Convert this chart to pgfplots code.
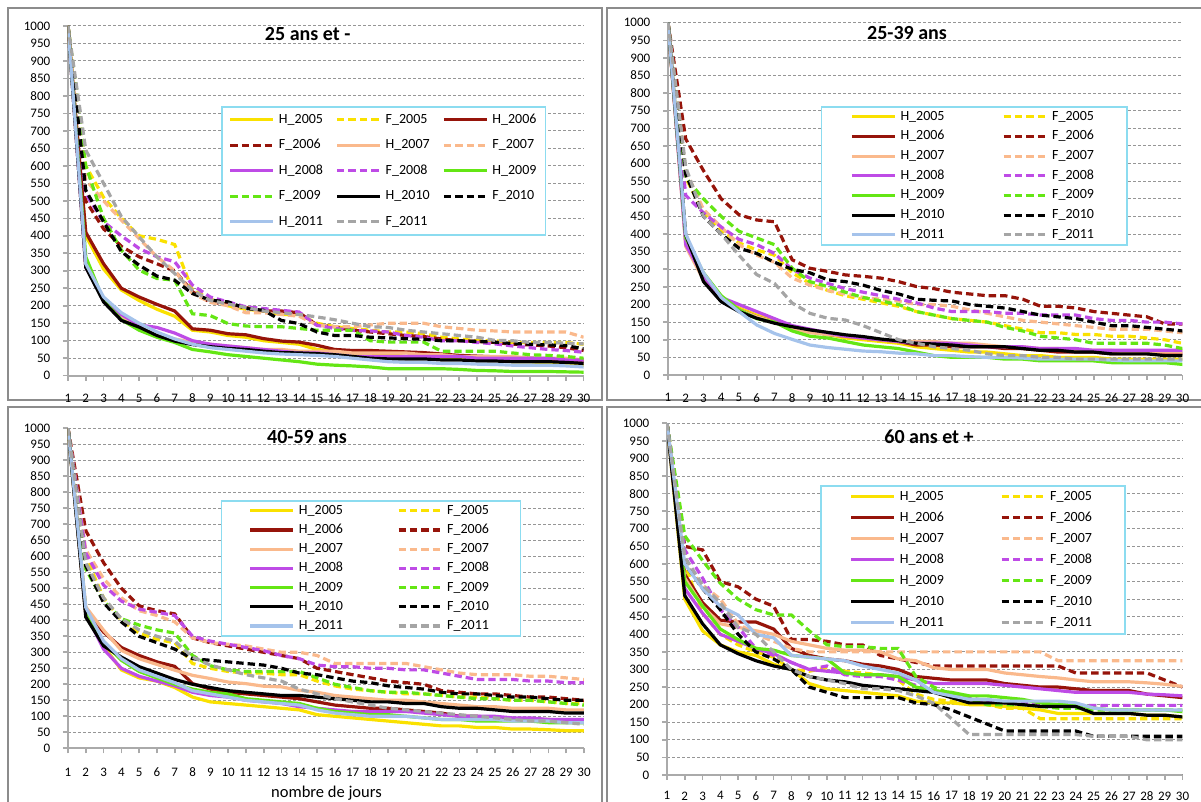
\documentclass[border=0pt]{standalone}
\usepackage{fontspec}
\setmainfont{Carlito}
\usepackage{pgfplots}
\pgfplotsset{compat=1.18}
\definecolor{cyel}{RGB}{250,225,0}
\definecolor{cdred}{RGB}{150,20,10}
\definecolor{cor}{RGB}{250,185,140}
\definecolor{cpur}{RGB}{190,75,230}
\definecolor{cgrn}{RGB}{100,230,20}
\definecolor{cblk}{RGB}{0,0,0}
\definecolor{cblu}{RGB}{165,195,235}
\definecolor{cgry}{RGB}{165,165,165}
\definecolor{cleg}{RGB}{140,220,240}
\definecolor{cframe}{RGB}{140,140,140}
\definecolor{cgrid}{RGB}{150,150,150}
\definecolor{caxis}{RGB}{170,170,170}
\pgfplotsset{
  hs/.style={line width=1.6pt, solid},
  fs/.style={line width=1.6pt, dash pattern=on 3.7pt off 2pt},
  panel/.style={
    scale only axis, anchor=south west,
    xmin=1, xmax=30, ymin=0, ymax=1000,
    xtick={1,...,30}, ytick={0,50,...,1000},
    axis x line*=bottom, axis y line*=left,
    axis line style={caxis, line width=0.9pt},
    tick style={caxis, line width=0.8pt},
    major tick length=2.5pt, tick align=outside,
    ymajorgrids, major grid style={cgrid, line width=0.5pt, dash pattern=on 1.5pt off 1pt},
    tick label style={font=\fontsize{6.5}{7}\selectfont},
    /pgf/number format/assume math mode=true,
    /pgf/number format/set thousands separator={},
    yticklabel style={inner sep=0pt, anchor=east, xshift=-6.2pt},
    legend cell align=left,
    legend image code/.code={\draw[##1] (0pt,0pt) -- (21.5pt,0pt);},
  },
  leg/.style={
    legend style={anchor=north west, draw=cleg, line width=0.8pt,
      font=\fontsize{7}{8}\selectfont,
      nodes={inner sep=1pt, text width=22pt, text height=5pt, text depth=1.5pt, align=left},
      /tikz/every odd column/.style={column sep=1pt}},
  },
}
\begin{document}
\begin{tikzpicture}
\useasboundingbox (0,0) rectangle (600.5pt,401pt);
\draw[cframe, line width=1pt] (4pt,201pt) rectangle (301pt,397pt);
\draw[cframe, line width=1pt] (602pt,201pt) -- (303.5pt,201pt) -- (303.5pt,397pt) -- (602pt,397pt);
\draw[cframe, line width=1pt] (4pt,-2pt) -- (4pt,197.5pt) -- (301pt,197.5pt) -- (301pt,-2pt);
\draw[cframe, line width=1pt] (303.5pt,-2pt) -- (303.5pt,197.5pt) -- (602pt,197.5pt);

% ---------------- 25 ans et -
\begin{axis}[panel, leg, at={(34pt,213.15pt)}, width=257.8pt, height=174.85pt,
  xticklabel style={inner sep=0pt, anchor=north, yshift=-6.4pt},
  legend columns=3,
  legend style={at={(0.2967,0.7712)}, inner xsep=3.5pt, inner ysep=2.25pt, row sep=4.25pt,
    /tikz/every even column/.style={column sep=5.25pt}}]
\addplot[hs,cyel] coordinates {(1,1000)(2,400)(3,305)(4,245)(5,215)(6,190)(7,170)(8,130)(9,125)(10,115)(11,110)(12,100)(13,95)(14,90)(15,75)(16,70)(17,65)(18,65)(19,60)(20,55)(21,55)(22,50)(23,50)(24,45)(25,45)(26,40)(27,40)(28,35)(29,30)(30,30)};
\addlegendentry{H\_2005}
\addplot[fs,cyel] coordinates {(1,1000)(2,600)(3,510)(4,450)(5,400)(6,390)(7,375)(8,245)(9,220)(10,200)(11,190)(12,185)(13,175)(14,175)(15,150)(16,140)(17,135)(18,130)(19,125)(20,125)(21,120)(22,110)(23,105)(24,100)(25,100)(26,95)(27,95)(28,95)(29,95)(30,90)};
\addlegendentry{F\_2005}
\addplot[hs,cdred] coordinates {(1,1000)(2,410)(3,320)(4,250)(5,225)(6,204)(7,185)(8,134)(9,130)(10,120)(11,117)(12,106)(13,99)(14,96)(15,87)(16,75)(17,72)(18,72)(19,70)(20,68)(21,66)(22,62)(23,58)(24,56)(25,54)(26,52)(27,50)(28,48)(29,45)(30,42)};
\addlegendentry{H\_2006}
\addplot[fs,cdred] coordinates {(1,1000)(2,500)(3,420)(4,370)(5,340)(6,320)(7,300)(8,240)(9,210)(10,205)(11,195)(12,185)(13,185)(14,180)(15,145)(16,140)(17,130)(18,125)(19,120)(20,115)(21,112)(22,105)(23,100)(24,98)(25,95)(26,90)(27,88)(28,85)(29,80)(30,72)};
\addlegendentry{F\_2006}
\addplot[hs,cor] coordinates {(1,1000)(2,310)(3,220)(4,170)(5,140)(6,120)(7,105)(8,95)(9,90)(10,85)(11,80)(12,75)(13,75)(14,70)(15,70)(16,70)(17,65)(18,65)(19,65)(20,65)(21,60)(22,60)(23,55)(24,55)(25,55)(26,55)(27,50)(28,50)(29,50)(30,45)};
\addlegendentry{H\_2007}
\addplot[fs,cor] coordinates {(1,1000)(2,560)(3,500)(4,445)(5,392)(6,340)(7,300)(8,235)(9,210)(10,200)(11,180)(12,180)(13,175)(14,170)(15,145)(16,140)(17,140)(18,145)(19,150)(20,150)(21,150)(22,140)(23,135)(24,130)(25,128)(26,125)(27,125)(28,125)(29,125)(30,110)};
\addlegendentry{F\_2007}
\addplot[hs,cpur] coordinates {(1,1000)(2,310)(3,220)(4,175)(5,145)(6,138)(7,122)(8,100)(9,90)(10,85)(11,80)(12,75)(13,70)(14,65)(15,65)(16,60)(17,55)(18,55)(19,55)(20,55)(21,55)(22,55)(23,55)(24,50)(25,50)(26,50)(27,50)(28,50)(29,45)(30,45)};
\addlegendentry{H\_2008}
\addplot[fs,cpur] coordinates {(1,1000)(2,520)(3,440)(4,400)(5,364)(6,340)(7,326)(8,259)(9,225)(10,211)(11,197)(12,192)(13,187)(14,182)(15,144)(16,135)(17,130)(18,128)(19,125)(20,115)(21,110)(22,100)(23,100)(24,95)(25,91)(26,85)(27,80)(28,75)(29,72)(30,67)};
\addlegendentry{F\_2008}
\addplot[hs,cgrn] coordinates {(1,1000)(2,340)(3,215)(4,160)(5,130)(6,110)(7,95)(8,75)(9,68)(10,60)(11,55)(12,50)(13,45)(14,40)(15,33)(16,30)(17,28)(18,25)(19,20)(20,20)(21,20)(22,20)(23,18)(24,15)(25,14)(26,12)(27,12)(28,12)(29,11)(30,10)};
\addlegendentry{H\_2009}
\addplot[fs,cgrn] coordinates {(1,1000)(2,600)(3,450)(4,359)(5,302)(6,278)(7,273)(8,177)(9,172)(10,149)(11,142)(12,140)(13,140)(14,135)(15,130)(16,130)(17,130)(18,100)(19,96)(20,96)(21,96)(22,70)(23,70)(24,70)(25,70)(26,65)(27,60)(28,58)(29,55)(30,50)};
\addlegendentry{F\_2009}
\addplot[hs,cblk] coordinates {(1,1000)(2,310)(3,211)(4,158)(5,139)(6,115)(7,99)(8,89)(9,83)(10,78)(11,75)(12,70)(13,66)(14,65)(15,63)(16,60)(17,55)(18,50)(19,48)(20,48)(21,48)(22,45)(23,45)(24,42)(25,42)(26,40)(27,40)(28,40)(29,38)(30,35)};
\addlegendentry{H\_2010}
\addplot[fs,cblk] coordinates {(1,1000)(2,530)(3,440)(4,355)(5,316)(6,285)(7,273)(8,235)(9,216)(10,211)(11,192)(12,187)(13,158)(14,149)(15,125)(16,115)(17,115)(18,110)(19,108)(20,106)(21,104)(22,100)(23,100)(24,98)(25,96)(26,92)(27,90)(28,88)(29,86)(30,77)};
\addlegendentry{F\_2010}
\addplot[hs,cblu] coordinates {(1,1000)(2,320)(3,225)(4,180)(5,150)(6,125)(7,105)(8,90)(9,80)(10,75)(11,70)(12,65)(13,62)(14,60)(15,58)(16,55)(17,50)(18,45)(19,40)(20,38)(21,38)(22,35)(23,35)(24,33)(25,32)(26,30)(27,30)(28,30)(29,28)(30,25)};
\addlegendentry{H\_2011}
\addplot[fs,cgry] coordinates {(1,1000)(2,645)(3,550)(4,455)(5,397)(6,340)(7,292)(8,244)(9,215)(10,205)(11,195)(12,185)(13,180)(14,175)(15,168)(16,160)(17,150)(18,140)(19,138)(20,130)(21,125)(22,120)(23,115)(24,110)(25,101)(26,100)(27,95)(28,95)(29,93)(30,91)};
\addlegendentry{F\_2011}
\end{axis}

% ---------------- 25-39 ans
\begin{axis}[panel, leg, at={(334pt,213.5pt)}, width=257.25pt, height=176.15pt,
  xticklabel style={inner sep=0pt, anchor=north, yshift=-6.6pt},
  legend columns=2,
  legend style={at={(0.297,0.7635)}, inner xsep=14.35pt, inner ysep=0.75pt, row sep=1.33pt,
    /tikz/every even column/.style={column sep=27.75pt}}]
\addplot[hs,cyel] coordinates {(1,1000)(2,385)(3,280)(4,215)(5,190)(6,170)(7,155)(8,135)(9,125)(10,115)(11,105)(12,100)(13,95)(14,90)(15,80)(16,75)(17,70)(18,65)(19,65)(20,60)(21,55)(22,55)(23,50)(24,50)(25,50)(26,45)(27,45)(28,45)(29,45)(30,45)};
\addlegendentry{H\_2005}
\addplot[fs,cyel] coordinates {(1,1000)(2,560)(3,460)(4,410)(5,375)(6,355)(7,340)(8,290)(9,260)(10,240)(11,225)(12,215)(13,205)(14,195)(15,180)(16,170)(17,160)(18,155)(19,150)(20,140)(21,130)(22,120)(23,120)(24,115)(25,115)(26,110)(27,110)(28,105)(29,100)(30,90)};
\addlegendentry{F\_2005}
\addplot[hs,cdred] coordinates {(1,1000)(2,380)(3,275)(4,215)(5,185)(6,165)(7,150)(8,135)(9,125)(10,115)(11,110)(12,105)(13,100)(14,95)(15,85)(16,85)(17,80)(18,80)(19,80)(20,75)(21,75)(22,70)(23,65)(24,65)(25,65)(26,60)(27,60)(28,60)(29,60)(30,60)};
\addlegendentry{H\_2006}
\addplot[fs,cdred] coordinates {(1,1000)(2,670)(3,580)(4,500)(5,455)(6,440)(7,435)(8,327)(9,303)(10,294)(11,284)(12,280)(13,275)(14,265)(15,251)(16,245)(17,235)(18,230)(19,225)(20,225)(21,215)(22,195)(23,195)(24,190)(25,180)(26,175)(27,170)(28,165)(29,145)(30,145)};
\addlegendentry{F\_2006}
\addplot[hs,cor] coordinates {(1,1000)(2,365)(3,270)(4,215)(5,185)(6,165)(7,150)(8,130)(9,120)(10,115)(11,110)(12,105)(13,100)(14,95)(15,95)(16,95)(17,90)(18,90)(19,85)(20,80)(21,80)(22,75)(23,75)(24,70)(25,70)(26,70)(27,65)(28,65)(29,65)(30,65)};
\addlegendentry{H\_2007}
\addplot[fs,cor] coordinates {(1,1000)(2,580)(3,470)(4,420)(5,370)(6,340)(7,320)(8,275)(9,255)(10,240)(11,230)(12,220)(13,215)(14,210)(15,200)(16,200)(17,195)(18,185)(19,175)(20,165)(21,155)(22,150)(23,145)(24,140)(25,135)(26,130)(27,130)(28,130)(29,125)(30,120)};
\addlegendentry{F\_2007}
\addplot[hs,cpur] coordinates {(1,1000)(2,370)(3,280)(4,220)(5,200)(6,180)(7,160)(8,140)(9,130)(10,120)(11,110)(12,105)(13,100)(14,95)(15,90)(16,90)(17,90)(18,85)(19,80)(20,80)(21,80)(22,75)(23,75)(24,75)(25,70)(26,70)(27,70)(28,70)(29,70)(30,70)};
\addlegendentry{H\_2008}
\addplot[fs,cpur] coordinates {(1,1000)(2,510)(3,460)(4,420)(5,385)(6,370)(7,345)(8,300)(9,275)(10,260)(11,245)(12,235)(13,225)(14,215)(15,205)(16,190)(17,180)(18,180)(19,180)(20,175)(21,175)(22,170)(23,170)(24,170)(25,160)(26,155)(27,155)(28,150)(29,150)(30,145)};
\addlegendentry{F\_2008}
\addplot[hs,cgrn] coordinates {(1,1000)(2,390)(3,290)(4,225)(5,185)(6,160)(7,150)(8,125)(9,110)(10,105)(11,95)(12,85)(13,80)(14,75)(15,65)(16,55)(17,50)(18,50)(19,50)(20,45)(21,45)(22,40)(23,40)(24,40)(25,40)(26,35)(27,35)(28,35)(29,35)(30,30)};
\addlegendentry{H\_2009}
\addplot[fs,cgrn] coordinates {(1,1000)(2,560)(3,500)(4,450)(5,408)(6,389)(7,370)(8,303)(9,265)(10,251)(11,235)(12,220)(13,210)(14,200)(15,180)(16,170)(17,160)(18,155)(19,150)(20,135)(21,125)(22,110)(23,105)(24,100)(25,90)(26,90)(27,90)(28,90)(29,85)(30,75)};
\addlegendentry{F\_2009}
\addplot[hs,cblk] coordinates {(1,1000)(2,398)(3,265)(4,208)(5,180)(6,161)(7,147)(8,137)(9,128)(10,121)(11,114)(12,109)(13,102)(14,97)(15,90)(16,88)(17,85)(18,80)(19,80)(20,80)(21,75)(22,70)(23,70)(24,65)(25,65)(26,60)(27,60)(28,60)(29,55)(30,55)};
\addlegendentry{H\_2010}
\addplot[fs,cblk] coordinates {(1,1000)(2,570)(3,450)(4,400)(5,360)(6,345)(7,320)(8,300)(9,290)(10,270)(11,265)(12,255)(13,240)(14,230)(15,215)(16,212)(17,210)(18,200)(19,195)(20,190)(21,180)(22,170)(23,165)(24,160)(25,150)(26,140)(27,140)(28,135)(29,130)(30,125)};
\addlegendentry{F\_2010}
\addplot[hs,cblu] coordinates {(1,1000)(2,400)(3,290)(4,220)(5,180)(6,142)(7,118)(8,101)(9,85)(10,78)(11,73)(12,68)(13,66)(14,62)(15,60)(16,55)(17,55)(18,52)(19,50)(20,50)(21,48)(22,45)(23,45)(24,45)(25,45)(26,42)(27,40)(28,40)(29,40)(30,40)};
\addlegendentry{H\_2011}
\addplot[fs,cgry] coordinates {(1,1000)(2,590)(3,450)(4,400)(5,340)(6,285)(7,260)(8,204)(9,175)(10,161)(11,156)(12,140)(13,120)(14,100)(15,90)(16,80)(17,75)(18,70)(19,60)(20,55)(21,55)(22,50)(23,50)(24,45)(25,45)(26,45)(27,45)(28,45)(29,45)(30,45)};
\addlegendentry{F\_2011}
\end{axis}

% ---------------- 40-59 ans
\begin{axis}[panel, leg, at={(34pt,26.85pt)}, width=258pt, height=160pt,
  xticklabel style={inner sep=0pt, anchor=north, yshift=-7.0pt},
  legend columns=2,
  legend style={at={(0.2961,0.776)}, inner xsep=13.6pt, inner ysep=0.75pt, row sep=1.1pt,
    /tikz/every even column/.style={column sep=26pt}}]
\addplot[hs,cyel] coordinates {(1,1000)(2,420)(3,320)(4,245)(5,220)(6,210)(7,190)(8,160)(9,145)(10,140)(11,135)(12,130)(13,125)(14,120)(15,105)(16,100)(17,95)(18,90)(19,85)(20,80)(21,75)(22,70)(23,70)(24,65)(25,65)(26,60)(27,60)(28,58)(29,55)(30,55)};
\addlegendentry{H\_2005}
\addplot[fs,cyel] coordinates {(1,1000)(2,600)(3,470)(4,400)(5,360)(6,340)(7,330)(8,265)(9,250)(10,240)(11,235)(12,235)(13,230)(14,230)(15,210)(16,195)(17,185)(18,180)(19,175)(20,170)(21,170)(22,165)(23,160)(24,160)(25,155)(26,150)(27,150)(28,145)(29,140)(30,140)};
\addlegendentry{F\_2005}
\addplot[hs,cdred] coordinates {(1,1000)(2,431)(3,363)(4,315)(5,290)(6,270)(7,256)(8,202)(9,185)(10,175)(11,170)(12,165)(13,160)(14,155)(15,145)(16,135)(17,130)(18,125)(19,125)(20,120)(21,115)(22,110)(23,100)(24,100)(25,95)(26,90)(27,90)(28,90)(29,85)(30,85)};
\addlegendentry{H\_2006}
\addplot[fs,cdred] coordinates {(1,1000)(2,680)(3,580)(4,500)(5,445)(6,430)(7,420)(8,345)(9,330)(10,320)(11,310)(12,300)(13,290)(14,280)(15,250)(16,240)(17,230)(18,220)(19,210)(20,205)(21,200)(22,180)(23,175)(24,170)(25,170)(26,165)(27,160)(28,160)(29,155)(30,150)};
\addlegendentry{F\_2006}
\addplot[hs,cor] coordinates {(1,1000)(2,442)(3,369)(4,306)(5,280)(6,262)(7,244)(8,228)(9,218)(10,207)(11,202)(12,194)(13,192)(14,181)(15,175)(16,165)(17,160)(18,155)(19,150)(20,150)(21,145)(22,140)(23,135)(24,130)(25,130)(26,125)(27,125)(28,125)(29,120)(30,120)};
\addlegendentry{H\_2007}
\addplot[fs,cor] coordinates {(1,1000)(2,620)(3,530)(4,470)(5,430)(6,415)(7,395)(8,345)(9,330)(10,325)(11,320)(12,310)(13,300)(14,300)(15,290)(16,265)(17,265)(18,265)(19,265)(20,265)(21,255)(22,245)(23,235)(24,230)(25,230)(26,230)(27,225)(28,225)(29,220)(30,215)};
\addlegendentry{F\_2007}
\addplot[hs,cpur] coordinates {(1,1000)(2,420)(3,310)(4,250)(5,225)(6,210)(7,195)(8,175)(9,165)(10,160)(11,150)(12,145)(13,140)(14,130)(15,125)(16,120)(17,115)(18,115)(19,115)(20,115)(21,110)(22,105)(23,100)(24,100)(25,100)(26,95)(27,95)(28,90)(29,90)(30,90)};
\addlegendentry{H\_2008}
\addplot[fs,cpur] coordinates {(1,1000)(2,610)(3,510)(4,460)(5,435)(6,425)(7,415)(8,350)(9,335)(10,325)(11,315)(12,305)(13,290)(14,280)(15,260)(16,255)(17,255)(18,250)(19,250)(20,245)(21,245)(22,235)(23,225)(24,215)(25,215)(26,215)(27,210)(28,210)(29,205)(30,205)};
\addlegendentry{F\_2008}
\addplot[hs,cgrn] coordinates {(1,1000)(2,430)(3,330)(4,275)(5,240)(6,220)(7,200)(8,185)(9,175)(10,170)(11,155)(12,150)(13,145)(14,140)(15,125)(16,115)(17,110)(18,105)(19,105)(20,100)(21,95)(22,90)(23,90)(24,85)(25,85)(26,85)(27,85)(28,80)(29,80)(30,80)};
\addlegendentry{H\_2009}
\addplot[fs,cgrn] coordinates {(1,1000)(2,560)(3,460)(4,405)(5,385)(6,370)(7,360)(8,290)(9,258)(10,245)(11,240)(12,240)(13,240)(14,240)(15,220)(16,200)(17,190)(18,180)(19,175)(20,175)(21,170)(22,165)(23,160)(24,155)(25,155)(26,150)(27,150)(28,145)(29,140)(30,135)};
\addlegendentry{F\_2009}
\addplot[hs,cblk] coordinates {(1,1000)(2,410)(3,320)(4,285)(5,255)(6,235)(7,215)(8,200)(9,190)(10,180)(11,175)(12,170)(13,165)(14,165)(15,160)(16,155)(17,150)(18,145)(19,145)(20,140)(21,140)(22,130)(23,125)(24,125)(25,120)(26,115)(27,115)(28,115)(29,110)(30,110)};
\addlegendentry{H\_2010}
\addplot[fs,cblk] coordinates {(1,1000)(2,570)(3,455)(4,395)(5,350)(6,330)(7,310)(8,280)(9,275)(10,270)(11,265)(12,260)(13,250)(14,235)(15,230)(16,220)(17,210)(18,205)(19,195)(20,190)(21,185)(22,175)(23,170)(24,170)(25,165)(26,160)(27,160)(28,155)(29,150)(30,150)};
\addlegendentry{F\_2010}
\addplot[hs,cblu] coordinates {(1,1000)(2,440)(3,335)(4,280)(5,245)(6,225)(7,205)(8,180)(9,170)(10,160)(11,150)(12,145)(13,140)(14,135)(15,120)(16,110)(17,105)(18,100)(19,100)(20,100)(21,95)(22,90)(23,90)(24,90)(25,90)(26,85)(27,85)(28,85)(29,80)(30,80)};
\addlegendentry{H\_2011}
\addplot[fs,cgry] coordinates {(1,1000)(2,580)(3,470)(4,405)(5,370)(6,350)(7,335)(8,285)(9,260)(10,245)(11,230)(12,220)(13,210)(14,185)(15,170)(16,155)(17,145)(18,135)(19,125)(20,120)(21,115)(22,110)(23,105)(24,100)(25,95)(26,90)(27,85)(28,85)(29,80)(30,75)};
\addlegendentry{F\_2011}
\end{axis}

% ---------------- 60 ans et +
\begin{axis}[panel, leg, at={(333.5pt,13.5pt)}, width=257.75pt, height=175.85pt,
  xticklabel style={inner sep=0pt, anchor=north, yshift=-5.6pt},
  legend columns=2,
  legend style={at={(0.2968,0.8246)}, inner xsep=14.4pt, inner ysep=1.25pt, row sep=2pt,
    /tikz/every even column/.style={column sep=27.1pt}}]
\addplot[hs,cyel] coordinates {(1,1000)(2,500)(3,410)(4,370)(5,350)(6,340)(7,315)(8,300)(9,260)(10,245)(11,240)(12,235)(13,230)(14,225)(15,210)(16,205)(17,205)(18,200)(19,200)(20,195)(21,190)(22,185)(23,175)(24,175)(25,175)(26,175)(27,175)(28,170)(29,170)(30,165)};
\addlegendentry{H\_2005}
\addplot[fs,cyel] coordinates {(1,1000)(2,600)(3,460)(4,400)(5,370)(6,350)(7,335)(8,300)(9,295)(10,305)(11,295)(12,290)(13,285)(14,270)(15,230)(16,215)(17,210)(18,205)(19,200)(20,190)(21,190)(22,160)(23,160)(24,160)(25,160)(26,160)(27,160)(28,160)(29,160)(30,160)};
\addlegendentry{F\_2005}
\addplot[hs,cdred] coordinates {(1,1000)(2,570)(3,490)(4,440)(5,435)(6,435)(7,415)(8,360)(9,340)(10,330)(11,325)(12,315)(13,310)(14,300)(15,280)(16,275)(17,270)(18,270)(19,270)(20,260)(21,255)(22,250)(23,250)(24,245)(25,240)(26,240)(27,240)(28,230)(29,225)(30,220)};
\addlegendentry{H\_2006}
\addplot[fs,cdred] coordinates {(1,1000)(2,650)(3,640)(4,550)(5,535)(6,500)(7,480)(8,385)(9,385)(10,380)(11,370)(12,370)(13,340)(14,330)(15,320)(16,310)(17,310)(18,310)(19,310)(20,310)(21,310)(22,310)(23,310)(24,290)(25,290)(26,290)(27,290)(28,290)(29,270)(30,250)};
\addlegendentry{F\_2006}
\addplot[hs,cor] coordinates {(1,1000)(2,560)(3,480)(4,430)(5,420)(6,410)(7,400)(8,380)(9,370)(10,360)(11,355)(12,355)(13,350)(14,330)(15,325)(16,305)(17,300)(18,300)(19,300)(20,290)(21,285)(22,280)(23,276)(24,270)(25,265)(26,265)(27,265)(28,262)(29,258)(30,252)};
\addlegendentry{H\_2007}
\addplot[fs,cor] coordinates {(1,1000)(2,600)(3,540)(4,500)(5,430)(6,400)(7,380)(8,360)(9,350)(10,350)(11,350)(12,350)(13,350)(14,350)(15,350)(16,350)(17,350)(18,350)(19,350)(20,350)(21,350)(22,350)(23,325)(24,325)(25,325)(26,325)(27,325)(28,325)(29,325)(30,325)};
\addlegendentry{F\_2007}
\addplot[hs,cpur] coordinates {(1,1000)(2,530)(3,460)(4,400)(5,380)(6,360)(7,345)(8,320)(9,300)(10,295)(11,290)(12,285)(13,285)(14,280)(15,270)(16,260)(17,260)(18,260)(19,260)(20,255)(21,250)(22,245)(23,240)(24,235)(25,235)(26,235)(27,235)(28,230)(29,228)(30,225)};
\addlegendentry{H\_2008}
\addplot[fs,cpur] coordinates {(1,1000)(2,640)(3,560)(4,470)(5,420)(6,360)(7,340)(8,320)(9,300)(10,310)(11,285)(12,280)(13,280)(14,270)(15,255)(16,240)(17,230)(18,220)(19,210)(20,205)(21,205)(22,200)(23,200)(24,198)(25,198)(26,198)(27,198)(28,198)(29,198)(30,198)};
\addlegendentry{F\_2008}
\addplot[hs,cgrn] coordinates {(1,1000)(2,550)(3,480)(4,415)(5,385)(6,360)(7,355)(8,340)(9,335)(10,330)(11,290)(12,285)(13,285)(14,280)(15,250)(16,240)(17,235)(18,225)(19,225)(20,220)(21,215)(22,205)(23,200)(24,200)(25,190)(26,185)(27,185)(28,185)(29,185)(30,180)};
\addlegendentry{H\_2009}
\addplot[fs,cgrn] coordinates {(1,1000)(2,680)(3,610)(4,545)(5,500)(6,470)(7,455)(8,455)(9,410)(10,370)(11,365)(12,365)(13,360)(14,360)(15,280)(16,250)(17,230)(18,215)(19,200)(20,200)(21,200)(22,195)(23,190)(24,190)(25,185)(26,185)(27,185)(28,185)(29,185)(30,185)};
\addlegendentry{F\_2009}
\addplot[hs,cblk] coordinates {(1,1000)(2,510)(3,430)(4,370)(5,345)(6,325)(7,310)(8,300)(9,280)(10,270)(11,265)(12,255)(13,250)(14,245)(15,240)(16,235)(17,220)(18,205)(19,205)(20,205)(21,200)(22,195)(23,195)(24,195)(25,175)(26,175)(27,175)(28,170)(29,170)(30,165)};
\addlegendentry{H\_2010}
\addplot[fs,cblk] coordinates {(1,1000)(2,600)(3,530)(4,470)(5,400)(6,350)(7,330)(8,300)(9,250)(10,235)(11,220)(12,220)(13,220)(14,220)(15,205)(16,200)(17,185)(18,165)(19,145)(20,125)(21,125)(22,125)(23,125)(24,125)(25,110)(26,110)(27,110)(28,110)(29,110)(30,110)};
\addlegendentry{F\_2010}
\addplot[hs,cblu] coordinates {(1,1000)(2,600)(3,530)(4,480)(5,455)(6,400)(7,390)(8,340)(9,335)(10,330)(11,325)(12,310)(13,300)(14,290)(15,270)(16,235)(17,225)(18,215)(19,215)(20,210)(21,210)(22,210)(23,210)(24,205)(25,190)(26,185)(27,185)(28,185)(29,185)(30,185)};
\addlegendentry{H\_2011}
\addplot[fs,cgry] coordinates {(1,1000)(2,620)(3,540)(4,490)(5,420)(6,400)(7,350)(8,300)(9,280)(10,270)(11,260)(12,245)(13,245)(14,240)(15,225)(16,204)(17,160)(18,115)(19,115)(20,115)(21,115)(22,115)(23,115)(24,115)(25,110)(26,110)(27,110)(28,100)(29,100)(30,100)};
\addlegendentry{F\_2011}
\end{axis}

\node[font=\bfseries\fontsize{10}{12}\selectfont] at (153.85pt,384pt) {25 ans et -};
\node[font=\bfseries\fontsize{10}{12}\selectfont] at (453.5pt,384.5pt) {25-39 ans};
\node[font=\bfseries\fontsize{10}{12}\selectfont] at (153.5pt,182.65pt) {40-59 ans};
\node[font=\bfseries\fontsize{10}{12}\selectfont] at (464.5pt,182.65pt) {60 ans et +};
\node[font=\fontsize{8.25}{10}\selectfont] at (163.25pt,4.5pt) {nombre de jours};
\end{tikzpicture}
\end{document}
